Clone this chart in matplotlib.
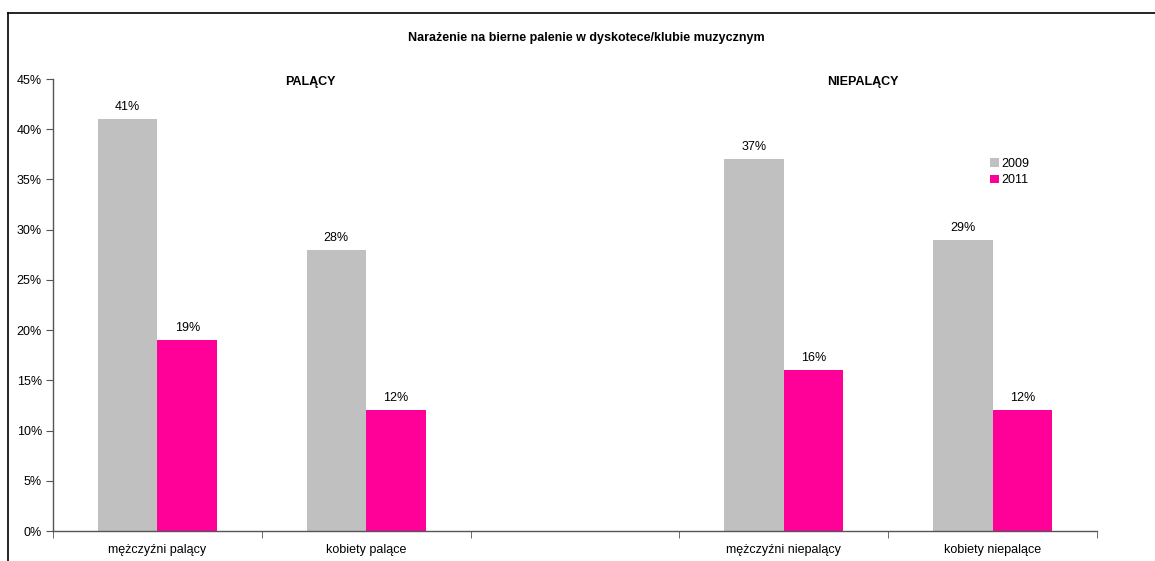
import matplotlib

matplotlib.use("Agg")
import matplotlib.pyplot as plt
import numpy as np
from matplotlib.lines import Line2D

plt.rcParams["font.family"] = ["Liberation Sans", "DejaVu Sans"]

categories = ["mężczyźni palący", "kobiety palące", "", "mężczyźni niepalący", "kobiety niepalące"]
years = ["2009", "2011"]
values_2009 = [41, 28, np.nan, 37, 29]
values_2011 = [19, 12, np.nan, 16, 12]
group_labels = ["PALĄCY", "NIEPALĄCY"]
colors = ["#C0C0C0", "#FF0099"]

fig = plt.figure(figsize=(11.55, 5.61), dpi=100)
ax = fig.add_axes([53 / 1155, 1 - 531 / 561, 1044 / 1155, 452 / 561])

x = np.arange(len(categories))
width = 1 / 3.5
for i, (vals, col, yr) in enumerate(zip([values_2009, values_2011], colors, years)):
    pos = x + (i - 0.5) * width
    ax.bar(pos, vals, width=width, color=col, label=yr, linewidth=0)
    for p, v in zip(pos, vals):
        if not np.isnan(v):
            ax.text(p, v + 0.6, f"{v:.0f}%", ha="center", va="bottom", fontsize=9)

ax.set_xlim(-0.5, len(categories) - 0.5)
ax.set_ylim(0, 45)
ax.set_yticks(np.arange(0, 46, 5))
ax.set_yticklabels([f"{t}%" for t in range(0, 46, 5)], fontsize=9)
ax.set_xticks(x)
ax.set_xticklabels(categories, fontsize=9)
ax.tick_params(axis="x", length=0, pad=9)
ax.set_xticks(np.arange(-0.5, len(categories)), minor=True)
ax.tick_params(axis="x", which="minor", length=5, direction="out", color="#555555")
ax.tick_params(axis="y", length=5, direction="out", color="#555555", pad=3)
for s in ["top", "right"]:
    ax.spines[s].set_visible(False)
for s in ["left", "bottom"]:
    ax.spines[s].set_color("#555555")
    ax.spines[s].set_linewidth(1)

ax.text(0.246, 0.993, group_labels[0], transform=ax.transAxes, ha="center", va="center",
        fontsize=9, fontweight="bold")
ax.text(0.776, 0.993, group_labels[1], transform=ax.transAxes, ha="center", va="center",
        fontsize=9, fontweight="bold")

ax.legend(loc="center left", bbox_to_anchor=(0.893, 0.794), frameon=False, fontsize=9,
          handlelength=0.7, handleheight=0.7, handletextpad=0.2, labelspacing=0.35,
          borderaxespad=0)

fig.text(586 / 1155, 1 - 38 / 561, "Narażenie na bierne palenie w dyskotece/klubie muzycznym",
         ha="center", va="center", fontsize=9, fontweight="bold")

fig.add_artist(Line2D([8 / 1155, 8 / 1155], [0, 1 - 13 / 561], transform=fig.transFigure,
                      color="black", linewidth=1.2))
fig.add_artist(Line2D([8 / 1155, 1], [1 - 13 / 561, 1 - 13 / 561], transform=fig.transFigure,
                      color="black", linewidth=1.2))

fig.savefig("out.png", dpi=100)
plt.close(fig)
